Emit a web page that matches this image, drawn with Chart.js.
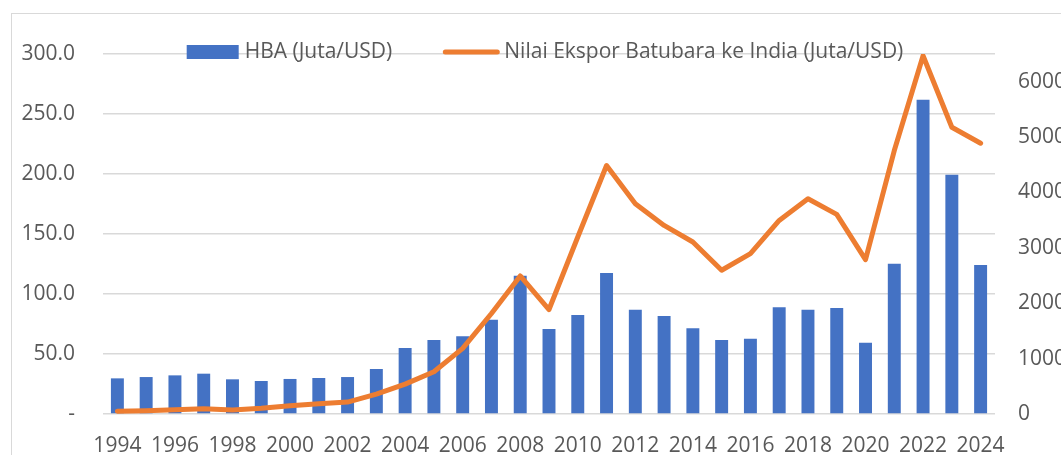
<!DOCTYPE html>
<html>
<head>
<meta charset="utf-8">
<script src="https://cdn.jsdelivr.net/npm/chart.js@4.4.1/dist/chart.umd.min.js"></script>
<style>
  html, body { margin: 0; padding: 0; background: #fff; }
  #wrap { width: 1061px; height: 455px; }
</style>
</head>
<body>
<div id="wrap"><canvas id="chart"></canvas></div>
<script>
// data
const years = ['1994','1995','1996','1997','1998','1999','2000','2001','2002','2003','2004',
  '2005','2006','2007','2008','2009','2010','2011','2012','2013','2014','2015','2016',
  '2017','2018','2019','2020','2021','2022','2023','2024'];
const hba = [29.7, 30.8, 32.2, 33.6, 28.9, 27.5, 29.2, 30.0, 30.8, 37.5, 55.0,
  61.7, 64.7, 78.6, 115.3, 70.8, 82.5, 117.5, 86.9, 81.7, 71.4, 61.7, 62.8,
  88.9, 86.9, 88.3, 59.4, 125.3, 261.9, 199.4, 124.2];
const ekspor = [50, 60, 77, 95, 72, 103, 150, 186, 216, 360, 540,
  762, 1184, 1814, 2492, 1886, 3195, 4486, 3796, 3405, 3105, 2595, 2895,
  3495, 3886, 3604, 2787, 4757, 6468, 5177, 4889];
const leftTickValues = [0, 50, 100, 150, 200, 250, 300];
const rightTickValues = [0, 1000, 2000, 3000, 4000, 5000, 6000];
const rightMax = 6500;

const textColor = '#595959';
const gridColor = '#D9D9D9';
const font = { family: '"Open Sans", sans-serif', size: 21 };

// outer frame of the Excel chart
const framePlugin = {
  id: 'frame',
  beforeDraw(chart) {
    const ctx = chart.ctx;
    ctx.save();
    ctx.strokeStyle = gridColor;
    ctx.lineWidth = 1;
    ctx.strokeRect(11.5, 13.5, chart.width + 50, chart.height + 50);
    ctx.restore();
  }
};

// legend drawn on top of the plot, like the Excel one
const legendPlugin = {
  id: 'topLegend',
  afterDraw(chart) {
    const ctx = chart.ctx;
    const area = chart.chartArea;
    const ds = chart.data.datasets;
    ctx.save();
    ctx.font = font.size + 'px ' + font.family;
    const w0 = ctx.measureText(ds[0].label).width;
    const w1 = ctx.measureText(ds[1].label).width;
    const total = 52 + 6 + w0 + 51 + 56 + 5 + w1;
    let x = (area.left + area.right) / 2 - 4 - total / 2;
    const y = area.top - 2;
    ctx.fillStyle = ds[0].backgroundColor;
    ctx.fillRect(x, y - 7, 52, 14);
    x += 58;
    ctx.fillStyle = textColor;
    ctx.textBaseline = 'middle';
    ctx.fillText(ds[0].label, x, y);
    x += w0 + 51;
    ctx.strokeStyle = ds[1].borderColor;
    ctx.lineWidth = 5;
    ctx.lineCap = 'round';
    ctx.beginPath();
    ctx.moveTo(x + 2, y);
    ctx.lineTo(x + 54, y);
    ctx.stroke();
    x += 61;
    ctx.fillText(ds[1].label, x, y);
    ctx.restore();
  }
};

new Chart(document.getElementById('chart'), {
  type: 'bar',
  data: {
    labels: years,
    datasets: [
      {
        type: 'bar',
        label: 'HBA (Juta/USD)',
        data: hba,
        backgroundColor: '#4472C4',
        barPercentage: 0.45,
        categoryPercentage: 1,
        yAxisID: 'y',
        order: 2
      },
      {
        type: 'line',
        label: 'Nilai Ekspor Batubara ke India (Juta/USD)',
        data: ekspor,
        borderColor: '#ED7D31',
        backgroundColor: '#ED7D31',
        borderWidth: 5,
        borderCapStyle: 'round',
        borderJoinStyle: 'round',
        pointRadius: 0,
        tension: 0,
        yAxisID: 'y1',
        order: 1
      }
    ]
  },
  options: {
    responsive: true,
    maintainAspectRatio: false,
    animation: false,
    layout: { padding: { left: 11, right: 0, top: 54, bottom: 0 } },
    plugins: {
      legend: { display: false },
      tooltip: { enabled: false }
    },
    scales: {
      x: {
        grid: { display: false, drawTicks: false },
        border: { display: false },
        ticks: {
          color: textColor,
          font: font,
          padding: 19,
          autoSkip: false,
          maxRotation: 0,
          callback: function(value, index) {
            return index % 2 === 0 ? this.getLabelForValue(value) : '';
          }
        },
        afterFit(scale) { scale.height = 41; }
      },
      y: {
        position: 'left',
        min: leftTickValues[0],
        max: leftTickValues[leftTickValues.length - 1],
        grid: { color: gridColor, lineWidth: 1.5, drawTicks: false },
        border: { display: false },
        ticks: {
          color: textColor,
          font: font,
          padding: 28,
          callback: v => v === 0 ? '-' : v.toFixed(1)
        },
        afterBuildTicks(scale) {
          scale.ticks = leftTickValues.map(v => ({ value: v }));
        },
        afterFit(scale) { scale.width = 92; }
      },
      y1: {
        position: 'right',
        min: rightTickValues[0],
        max: rightMax,
        grid: { display: false, drawTicks: false },
        border: { display: false },
        ticks: {
          autoSkip: false,
          color: textColor,
          font: font,
          padding: 23,
          callback: v => String(v)
        },
        afterBuildTicks(scale) {
          scale.ticks = rightTickValues.map(v => ({ value: v }));
        },
        afterFit(scale) { scale.width = 66; }
      }
    }
  },
  plugins: [framePlugin, legendPlugin]
});
</script>
</body>
</html>
